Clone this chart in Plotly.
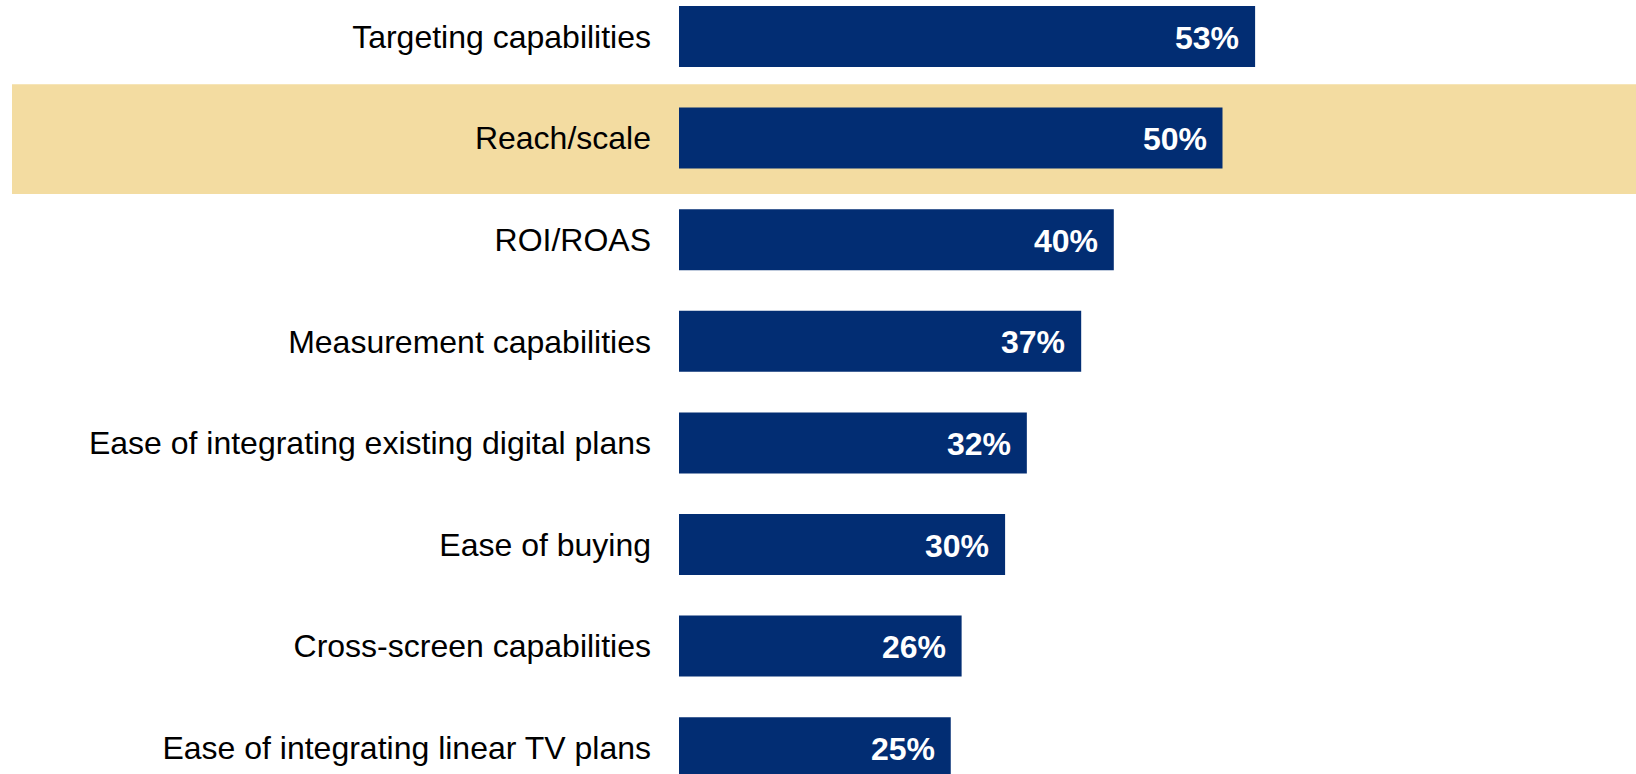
import plotly.graph_objects as go

# Survey results: share of respondents citing each factor
categories = [
    "Targeting capabilities",
    "Reach/scale",
    "ROI/ROAS",
    "Measurement capabilities",
    "Ease of integrating existing digital plans",
    "Ease of buying",
    "Cross-screen capabilities",
    "Ease of integrating linear TV plans",
]
values = [53, 50, 40, 37, 32, 30, 26, 25]
highlighted = "Reach/scale"

NAVY = "#022d73"
BAND = "#f3dca1"
FONT = "Liberation Sans, Arial, sans-serif"

W, H = 1636, 774
LEFT = 679
PX_PER_PCT = 10.87
ROW_PITCH = 101.6
FIRST_ROW_CENTER = 36.5

positions = list(range(len(categories)))

fig = go.Figure(
    go.Bar(
        x=values,
        y=positions,
        orientation="h",
        width=0.6,
        marker=dict(color=NAVY, line=dict(width=0)),
        hoverinfo="skip",
    )
)

# value labels at the inner end of each bar
for pos, v in zip(positions, values):
    fig.add_annotation(
        x=v, y=pos, xref="x", yref="y",
        text=f"<b>{v}%</b>", showarrow=False,
        xanchor="right", yanchor="middle", xshift=-14, yshift=-1,
        font=dict(family=FONT, size=32, color="white"),
    )

# highlight band behind the selected row
hi = categories.index(highlighted)
fig.add_shape(
    type="rect", layer="below",
    xref="paper", yref="y",
    x0=(12 - LEFT) / (W - LEFT), x1=1,
    y0=hi - 0.53, y1=hi + 0.55,
    fillcolor=BAND, line=dict(width=0),
)

y_top = -FIRST_ROW_CENTER / ROW_PITCH
y_bottom = (H - FIRST_ROW_CENTER) / ROW_PITCH

fig.update_layout(
    width=W, height=H,
    margin=dict(l=LEFT, r=0, t=0, b=0, autoexpand=False),
    paper_bgcolor="white", plot_bgcolor="rgba(0,0,0,0)",
    showlegend=False,
    xaxis=dict(
        range=[0, (W - LEFT) / PX_PER_PCT],
        visible=False, showgrid=False, zeroline=False,
    ),
    yaxis=dict(
        range=[y_bottom, y_top],
        tickvals=positions, ticktext=categories,
        showgrid=False, zeroline=False, showline=False,
        ticks="", ticklabelstandoff=27,
        tickfont=dict(family=FONT, size=32, color="#000000"),
    ),
)

fig.write_html("out.html")
